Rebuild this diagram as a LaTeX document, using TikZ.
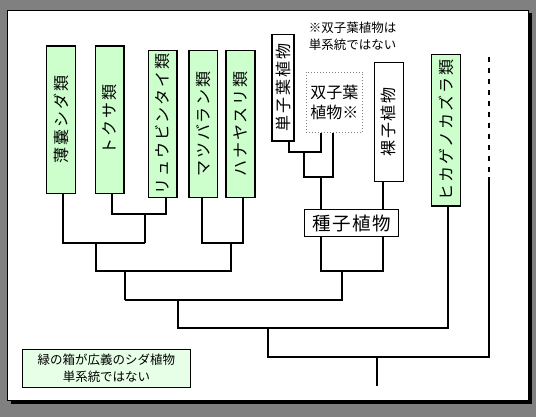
\documentclass[tikz,border=0pt]{standalone}
\usepackage{fontspec}
\newfontfamily\jp{Noto Sans CJK JP}
\newfontfamily\jpsp[LetterSpace=12]{Noto Sans CJK JP}
\definecolor{bg}{HTML}{808080}
\definecolor{fern}{HTML}{CCFFCC}
\definecolor{legendfill}{HTML}{E6FFE6}
\begin{document}
\begin{tikzpicture}[x=1pt,y=-1pt,
  vbox/.style={draw=black, line width=1.2pt, inner sep=0pt, minimum width=29pt,
    font=\jpsp\fontsize{16}{16}\selectfont},
  fernbox/.style={vbox, fill=fern},
  plainbox/.style={vbox, fill=white},
  tree/.style={line width=2pt},
  smalltext/.style={font=\jp\fontsize{12.5}{17.5}\selectfont, align=center, inner sep=0pt}]
\useasboundingbox (0,0) rectangle (536,417);
% background, shadow and panel
\fill[bg] (0,0) rectangle (536,417);
\fill[black] (10.5,13.5) rectangle (532,404);
\draw[black, line width=0.8pt, fill=white] (7,10) rectangle (528.5,400.5);

% boxes
\node[fernbox, minimum width=29pt, minimum height=147.3pt] (b1) at (61,119.65) {\rotatebox{90}{薄嚢シダ類}};
\node[fernbox, minimum width=28.5pt, minimum height=147.3pt] (b2) at (109.75,119.65) {\rotatebox{90}{トクサ類}};
\node[fernbox, minimum width=28.5pt, minimum height=146.6pt] (b3) at (162.75,124) {\rotatebox{90}{リュウビンタイ類}};
\node[fernbox, minimum width=28.5pt, minimum height=146.6pt] (b4) at (203.25,124) {\rotatebox{90}{マツバラン類}};
\node[fernbox, minimum width=29pt, minimum height=146.6pt] (b5) at (240.5,124) {\rotatebox{90}{ハナヤスリ類}};
\node[plainbox, minimum width=22pt, minimum height=106.7pt] (mono) at (283,87.65) {\rotatebox{90}{単子葉植物}};
\node[draw=gray, dotted, line width=1pt, fill=white, inner sep=0pt, minimum width=56.7pt, minimum height=60.4pt,
  font=\jp\fontsize{16}{19.5}\selectfont, align=left] (dicot) at (334.35,102.5) {双子葉\\植物※};
\node[plainbox, minimum width=29pt, minimum height=119.4pt] (gymno) at (388.8,122) {\rotatebox{90}{裸子植物}};
\node[fernbox, minimum width=29pt, minimum height=151.7pt] (lyco) at (446.2,130.15) {\rotatebox{90}{ヒカゲノカズラ類}};

% texts
\node[smalltext] (note) at (352.5,36.5) {※双子葉植物は\\単系統ではない};
\node[draw=black, line width=0.9pt, fill=legendfill, minimum width=168.4pt, minimum height=38pt,
  font=\jp\fontsize{12.5}{17.5}\selectfont, align=center, inner sep=0pt] (legend) at (106.5,368.3)
  {緑の箱が広義のシダ植物\\単系統ではない};

% junction coordinates
\coordinate (a2) at (111.5,214);
\coordinate (a3) at (165.5,214);
\coordinate (aS) at (145,214);
\coordinate (bL) at (62.7,243);
\coordinate (bS) at (145,243);
\coordinate (b4p) at (202,243);
\coordinate (b5p) at (242.5,243);
\coordinate (bA) at (96.3,243);
\coordinate (bB) at (231,243);
\coordinate (cA) at (96.3,271);
\coordinate (cB) at (231,271);
\coordinate (cS) at (125,271);
\coordinate (dS) at (125,300);
\coordinate (m1) at (288.5,152.3);
\coordinate (m2) at (321,152.3);
\coordinate (mS) at (304.3,152.3);
\coordinate (n1) at (304.3,177);
\coordinate (n2) at (332.7,177);
\coordinate (nS) at (321,177);
\coordinate (s1) at (321,271);
\coordinate (s2) at (382.7,271);
\coordinate (sS) at (341.7,271);
\coordinate (dE) at (341.7,300);
\coordinate (dM) at (178,300);
\coordinate (eL) at (178,328.3);
\coordinate (eR) at (448.3,328.3);
\coordinate (eS) at (268,328.3);
\coordinate (fL) at (268,356.7);
\coordinate (fR) at (489.3,356.7);
\coordinate (fS) at (376.7,356.7);
\coordinate (root) at (376.7,385.7);
\coordinate (dashtop) at (489.3,56.7);
\coordinate (dashend) at (489.3,177);

% connectors
\draw[tree] (b2.south -| a2) -- (a2) -- (a3) -- (b3.south -| a3);
\draw[tree] (aS) -- (bS);
\draw[tree] (b1.south -| bL) -- (bL) -- (bS);
\draw[tree] (b4.south -| b4p) -- (b4p) -- (b5p) -- (b5.south -| b5p);
\draw[tree] (bA) -- (cA) -- (cB) -- (bB);
\draw[tree] (cS) -- (dS);
\draw[tree] (mono.south -| m1) -- (m1) -- (m2) -- (dicot.south -| m2);
\draw[tree] (mS) -- (n1) -- (n2) -- (dicot.south -| n2);
\draw[tree] (nS) -- (s1) -- (s2) -- (gymno.south -| s2);
\draw[tree] (sS) -- (dE) -- (dS);
\draw[tree] (dM) -- (eL) -- (eR) -- (lyco.south -| eR);
\draw[tree] (eS) -- (fL) -- (fR) -- (dashend);
\draw[tree, dash pattern=on 5.5pt off 5.5pt] (dashtop) -- (dashend);
\draw[tree] (fS) -- (root);

% seed plants box on top of the lines
\node[draw=black, line width=1pt, fill=white, inner sep=0pt, minimum width=94pt, minimum height=27pt,
  font=\jp\fontsize{18.5}{18.5}\selectfont] (seed) at (351.3,223.5) {種\hspace{1.5pt}子\hspace{1.5pt}植\hspace{1.5pt}物};
\end{tikzpicture}
\end{document}
